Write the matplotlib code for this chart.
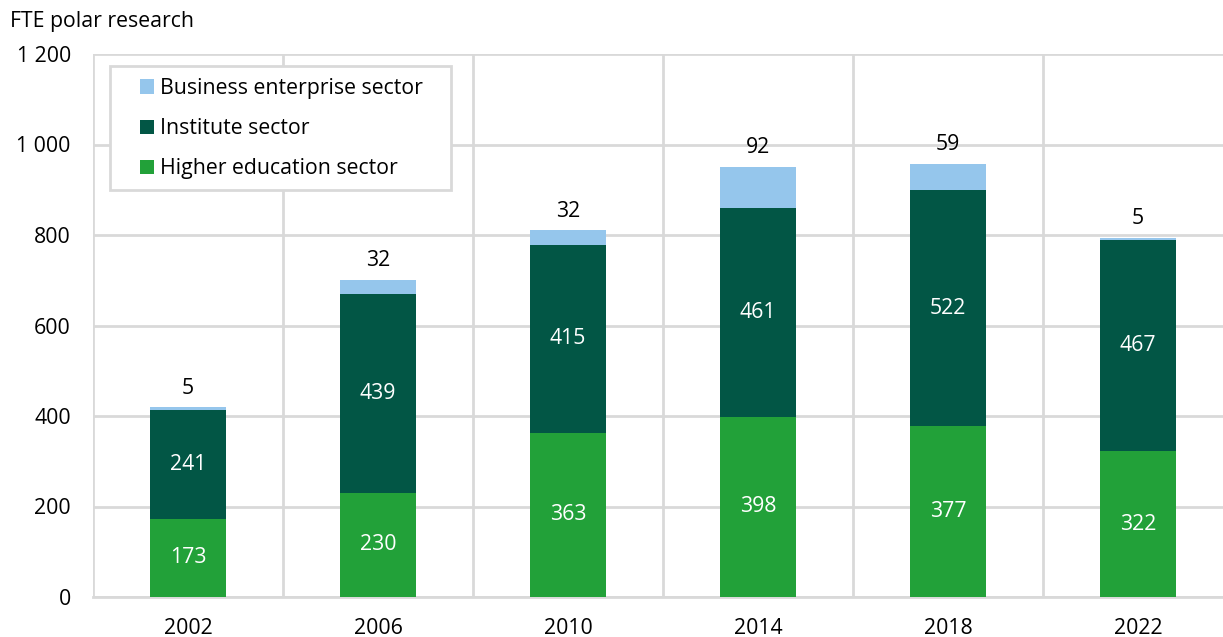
import numpy as np
import matplotlib.pyplot as plt
from matplotlib.patches import Rectangle

plt.rcParams['font.family'] = ['Open Sans', 'DejaVu Sans']

years = ["2002", "2006", "2010", "2014", "2018", "2022"]
higher_edu = [173, 230, 363, 398, 377, 322]
institute = [241, 439, 415, 461, 522, 467]
business = [5, 32, 32, 92, 59, 5]

c_business = "#95c6ec"
c_institute = "#025645"
c_higher = "#22a139"
grid_c = "#d9d9d9"
fs = 15.3
W, H = 1223, 637

fig = plt.figure(figsize=(W / 100, H / 100), dpi=100)
ax = fig.add_axes([93 / W, 1 - 597 / H, 1140 / W, 543 / H])

x = np.arange(len(years))
w = 0.4
hi = np.array(higher_edu)
ins = np.array(institute)
bus = np.array(business)

ax.bar(x, hi, w, color=c_higher, label="Higher education sector", zorder=3)
ax.bar(x, ins, w, bottom=hi, color=c_institute, label="Institute sector", zorder=3)
ax.bar(x, bus, w, bottom=hi + ins, color=c_business, label="Business enterprise sector", zorder=3)

for i in x:
    ax.text(i, hi[i] / 2, str(hi[i]), ha="center", va="center", color="white", fontsize=fs, zorder=4)
    ax.text(i, hi[i] + ins[i] / 2, str(ins[i]), ha="center", va="center", color="white", fontsize=fs, zorder=4)
    ax.text(i, hi[i] + ins[i] + bus[i] + 42, str(bus[i]), ha="center", va="center", color="black", fontsize=fs, zorder=4)

ax.set_xlim(-0.5, len(years) - 0.5)
ax.set_ylim(0, 1200)
ax.set_yticks(range(0, 1201, 200))
ax.set_yticklabels([f"{v:,}".replace(",", " ") for v in range(0, 1201, 200)])
ax.set_xticks(x)
ax.set_xticklabels(years)
ax.set_xticks(np.arange(-0.5, len(years), 1), minor=True)

ax.grid(axis="y", which="major", color=grid_c, linewidth=2, zorder=0)
ax.grid(axis="x", which="minor", color=grid_c, linewidth=2, zorder=0)
ax.grid(axis="x", which="major", visible=False)
for s in ["top", "right", "left"]:
    ax.spines[s].set_visible(False)
ax.spines["bottom"].set_color(grid_c)
ax.spines["bottom"].set_linewidth(2)
ax.tick_params(axis="both", which="both", length=0, labelsize=fs)
ax.tick_params(axis="x", pad=15)
ax.tick_params(axis="y", pad=16)

# legend box drawn separately to get the wide side padding
fig.patches.append(Rectangle((110 / W, 1 - 190 / H), 341 / W, 124 / H, transform=fig.transFigure,
                             facecolor="white", edgecolor=grid_c, linewidth=2, zorder=5))
handles, labels = ax.get_legend_handles_labels()
leg = fig.legend(handles[::-1], labels[::-1], loc="upper left", bbox_to_anchor=(140 / W, 1 - 78 / H),
                 fontsize=fs, frameon=False, handlelength=0.65, handleheight=0.65,
                 handletextpad=0.3, labelspacing=0.9, borderpad=0, borderaxespad=0)
leg.set_zorder(6)

fig.text(10 / W, 1 - 22 / H, "FTE polar research", ha="left", va="center", fontsize=fs)

fig.savefig("out.png", dpi=100)
